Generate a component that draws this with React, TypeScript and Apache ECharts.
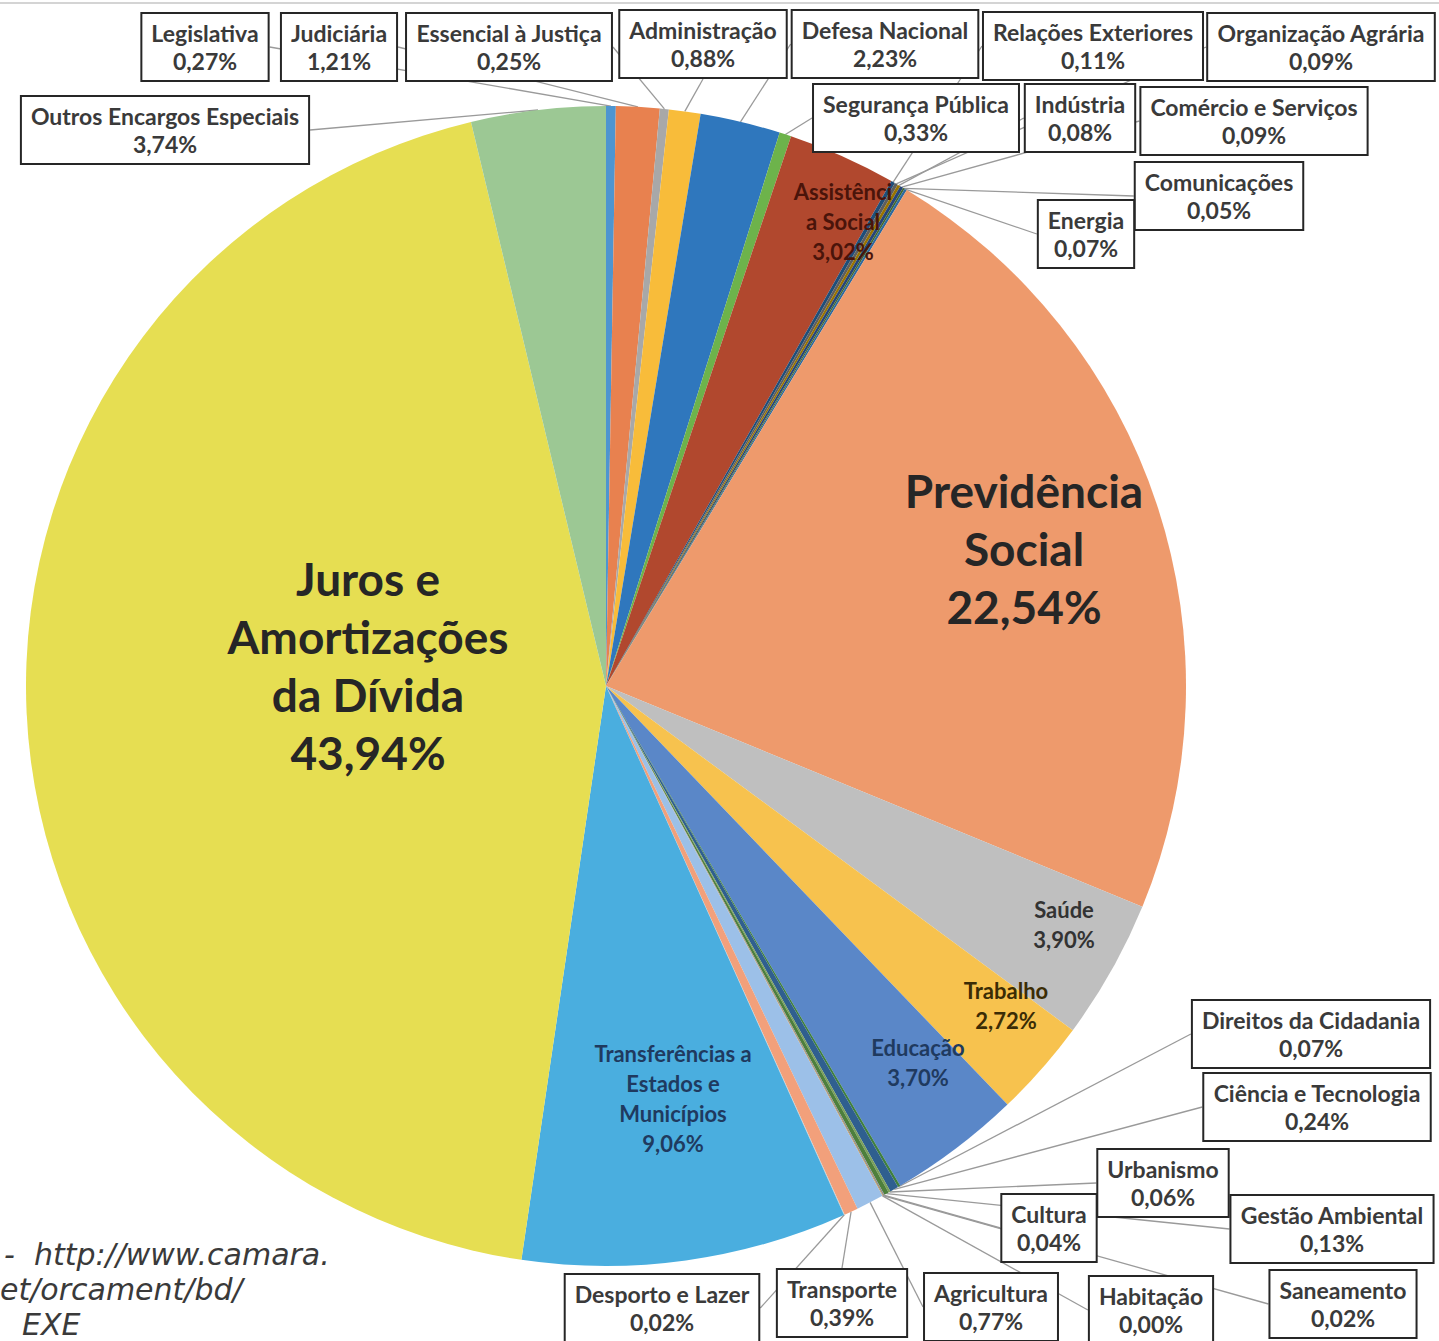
import React, { useEffect, useRef } from "react";
import * as echarts from "echarts";

// ---- DATA ----
const categories: string[] = [
  "Legislativa",
  "Judiciária",
  "Essencial à Justiça",
  "Administração",
  "Defesa Nacional",
  "Segurança Pública",
  "Assistência Social",
  "Relações Exteriores",
  "Organização Agrária",
  "Indústria",
  "Comércio e Serviços",
  "Comunicações",
  "Energia",
  "Previdência Social",
  "Saúde",
  "Trabalho",
  "Educação",
  "Direitos da Cidadania",
  "Ciência e Tecnologia",
  "Urbanismo",
  "Gestão Ambiental",
  "Cultura",
  "Saneamento",
  "Habitação",
  "Agricultura",
  "Transporte",
  "Desporto e Lazer",
  "Transferências a Estados e Municípios",
  "Juros e Amortizações da Dívida",
  "Outros Encargos Especiais",
];

const percentages: number[] = [
  0.27, 1.21, 0.25, 0.88, 2.23, 0.33, 3.02, 0.11, 0.09, 0.08, 0.09, 0.05, 0.07,
  22.54, 3.9, 2.72, 3.7, 0.07, 0.24, 0.06, 0.13, 0.04, 0.02, 0.0, 0.77, 0.39,
  0.02, 9.06, 43.94, 3.74,
];

const sourceLines: string[] = ["-  http://www.camara.", "et/orcament/bd/", "EXE"];

// ---- STYLES / LAYOUT ----
const sliceColors: string[] = [
  "#4E95D0", "#E8814F", "#A8A8A8", "#F8BC3A", "#2F77BD", "#6DB34B",
  "#B1482E", "#1F4E79", "#5E5E5E", "#997300", "#264478", "#43682B",
  "#2E6A9E", "#EE9A6C", "#BFBFBF", "#F7C24E", "#5A87C8", "#3F7F3F",
  "#2F5F8F", "#7BA05B", "#4D7F3C", "#8E8E8E", "#C58A2A", "#555555",
  "#9CC0E8", "#F2A07B", "#C9C9C9", "#4AAEDF", "#E6DE52", "#9CC894",
];

const wrappedNames: Record<string, string> = {
  "Juros e Amortizações da Dívida": "Juros e\nAmortizações\nda Dívida",
  "Previdência Social": "Previdência\nSocial",
  "Transferências a Estados e Municípios": "Transferências a\nEstados e\nMunicípios",
  "Assistência Social": "Assistênci\na Social",
};

type InnerStyle = { fontSize: number; lineHeight: number; color: string };
const innerStyles: Record<string, InnerStyle> = {
  "Juros e Amortizações da Dívida": { fontSize: 46, lineHeight: 58, color: "#262626" },
  "Previdência Social": { fontSize: 46, lineHeight: 58, color: "#262626" },
  "Transferências a Estados e Municípios": { fontSize: 22, lineHeight: 30, color: "#1F3A5F" },
  "Educação": { fontSize: 22, lineHeight: 30, color: "#1F3A5F" },
  "Trabalho": { fontSize: 22, lineHeight: 30, color: "#3B2C05" },
  "Saúde": { fontSize: 22, lineHeight: 30, color: "#333333" },
  "Assistência Social": { fontSize: 22, lineHeight: 30, color: "#4A140A" },
};

// label box centres (layout only)
const labelCenters: [number, number][] = [
  [205, 47], // Legislativa
  [339, 47], // Judiciária
  [509, 47], // Essencial
  [703, 44], // Administração
  [885, 44], // Defesa
  [916, 118], // Segurança
  [843, 221], // Assistência (inner)
  [1093, 46], // Relações Exteriores
  [1321, 47], // Organização Agrária
  [1080, 118], // Indústria
  [1254, 121], // Comércio
  [1219, 196], // Comunicações
  [1086, 234], // Energia
  [1024, 548], // Previdência (inner)
  [1064, 924], // Saúde (inner)
  [1006, 1005], // Trabalho (inner)
  [918, 1062], // Educação (inner)
  [1311, 1034], // Direitos
  [1317, 1107], // Ciência
  [1163, 1183], // Urbanismo
  [1332, 1229], // Gestão
  [1049, 1228], // Cultura
  [1343, 1304], // Saneamento
  [1151, 1310], // Habitação
  [991, 1307], // Agricultura
  [842, 1303], // Transporte
  [662, 1308], // Desporto
  [673, 1098], // Transferências (inner)
  [368, 665], // Juros (inner)
  [165, 130], // Outros
];

const FONT = "Lato, 'Open Sans', sans-serif";

const fmt = (v: number) => v.toFixed(2).replace(".", ",") + "%";

export default function App() {
  const ref = useRef<HTMLDivElement>(null);

  useEffect(() => {
    if (!ref.current) return;
    const chart = echarts.init(ref.current, null, { renderer: "svg" });

    const data = categories.map((name, i) => {
      const inner = innerStyles[name];
      const item: any = {
        name,
        value: percentages[i],
        itemStyle: { color: sliceColors[i] },
      };
      if (inner) {
        item.label = {
          position: "inside",
          fontFamily: FONT,
          fontWeight: "bold",
          fontSize: inner.fontSize,
          lineHeight: inner.lineHeight,
          color: inner.color,
          textBorderWidth: 0,
          textBorderColor: "transparent",
          backgroundColor: "transparent",
          borderWidth: 0,
          padding: 0,
        };
        item.labelLine = { show: false };
      }
      return item;
    });

    chart.setOption({
      animation: false,
      backgroundColor: "#ffffff",
      graphic: [
        {
          type: "line",
          shape: { x1: 0, y1: 3, x2: 1439, y2: 3 },
          style: { stroke: "#d4d4d4", lineWidth: 2 },
        },
        ...sourceLines.map((t, i) => ({
          type: "text",
          left: i === 0 ? 4 : i === 1 ? 0 : 22,
          top: 1239 + i * 35,
          style: {
            text: t,
            font: "italic 30px 'DejaVu Sans', Verdana, sans-serif",
            fill: "#3a3a3a",
          },
        })),
      ],
      series: [
        {
          type: "pie",
          center: [606, 686],
          radius: 580,
          startAngle: 90,
          clockwise: true,
          avoidLabelOverlap: false,
          minShowLabelAngle: 0,
          stillShowZeroSum: true,
          data,
          label: {
            show: true,
            position: "outside",
            formatter: (p: any) =>
              `${wrappedNames[p.name] ?? p.name}\n${fmt(p.value)}`,
            fontFamily: FONT,
            fontWeight: "bold",
            fontSize: 23,
            lineHeight: 28,
            color: "#3a3a3a",
            backgroundColor: "#ffffff",
            borderColor: "#262626",
            borderWidth: 2,
            padding: [5, 9, 5, 9],
            align: "center",
            overflow: "none",
            alignTo: "none",
            edgeDistance: 0,
          },
          labelLine: {
            show: true,
            length: 8,
            length2: 0,
            lineStyle: { color: "#9A9A9A", width: 1.3 },
          },
          labelLayout: (params: any) => {
            const c = labelCenters[params.dataIndex];
            return {
              x: c[0],
              y: c[1],
              align: "center",
              verticalAlign: "middle",
            };
          },
          emphasis: { disabled: true },
        },
      ],
    });

    return () => chart.dispose();
  }, []);

  return (
    <div
      ref={ref}
      style={{
        position: "absolute",
        left: 0,
        top: 0,
        width: 1439,
        height: 1341,
      }}
    />
  );
}
